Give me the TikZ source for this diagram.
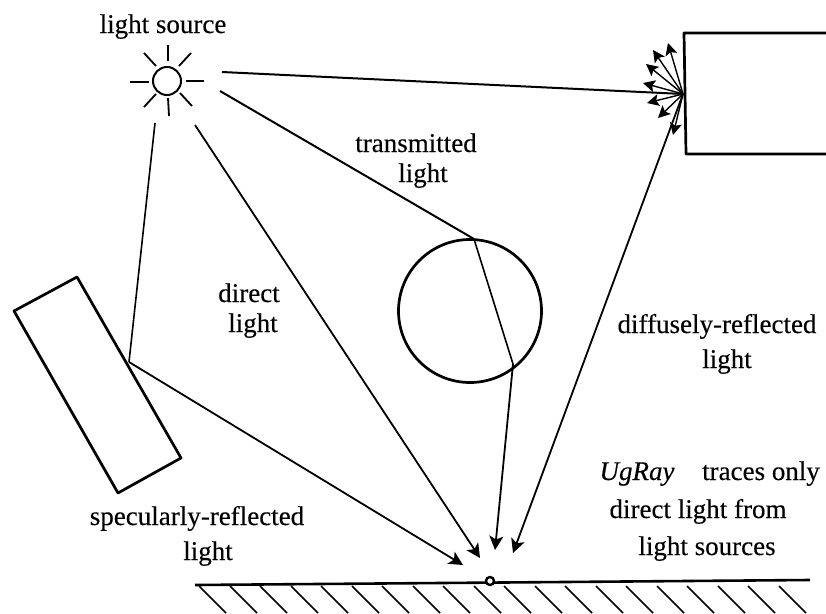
\documentclass[tikz,border=0pt]{standalone}
\usepackage{fontspec}
\setmainfont{Liberation Serif}[FakeBold=0.25]
\usetikzlibrary{arrows.meta}
\tikzset{
  ray/.style={line width=1.8pt,-{Stealth[length=14pt,width=14pt,inset=3.5pt]}},
  rayplain/.style={line width=2pt},
  small/.style={line width=1.4pt,-{Stealth[length=12pt,width=12pt,inset=2.5pt]}},
  obj/.style={line width=2.7pt,line join=round},
  sunray/.style={line width=1.8pt},
  hatch/.style={line width=1.5pt},
  lab/.style={inner sep=0pt,anchor=base,font=\fontsize{27}{31}\selectfont}
}
\begin{document}
\begin{tikzpicture}[x=1pt,y=-1pt]
\useasboundingbox (0,0) rectangle (826,613);
% sun
\node[circle,draw,line width=2pt,minimum size=28pt,inner sep=0pt] (sun) at (167,81) {};
\foreach \a/\b/\c/\d in {130/82/149/82,186/81/204/81,144/53/156/66,191/53/179/66,168/45/168/61,144/107/156/94,192/106/180/93,168/98/169/116}
  \draw[sunray] (\a,\b) -- (\c,\d);
% coordinates
\coordinate (srcA) at (222,72);
\coordinate (srcB) at (220,91);
\coordinate (srcC) at (195,125);
\coordinate (srcD) at (155,123);
\coordinate (dif) at (683,94);
\coordinate (tin) at (474,239);
\coordinate (tout) at (513,364);
\coordinate (spec) at (129,362);
\coordinate (tipA) at (463,565);
\coordinate (tipB) at (480,558);
\coordinate (tipC) at (495,550);
\coordinate (tipD) at (513,553);
% objects
\draw[obj] (826,33) -- (684,33) -- (686,154) -- (826,154);
\node[circle,draw,line width=2.7pt,minimum size=143pt,inner sep=0pt] (ball) at (470,311) {};
\draw[obj] (14,311) -- (77,277) -- (181,458) -- (118,493) -- cycle;
% ground
\draw[line width=2.6pt] (195,585) -- (810,580);
\node[circle,draw,fill=white,line width=2.4pt,minimum size=8pt,inner sep=0pt] (pt) at (490,581) {};
\foreach \x in {199,230,260,291,321,352,382,413,443,474,504,535,565,596,626,657,687,718,748,779}
  \draw[hatch] (\x,586) -- ({\x+27},613);
% rays
\draw[rayplain] (srcA) -- (dif);
\draw[rayplain] (srcB) -- (tin);
\draw[rayplain,line width=1.6pt] (tin) -- (tout);
\draw[ray] (tout) -- (tipC);
\draw[ray] (srcC) -- (tipB);
\draw[rayplain,line width=1.6pt] (srcD) -- (spec);
\draw[ray] (spec) -- (tipA);
\draw[ray] (dif) -- (tipD);
\foreach \x/\y in {668/43,653/50,646/64,643/83,647/103,658/118,673/135}
  \draw[small] (dif) -- (\x,\y);
% labels
\node[lab] (t1) at (163,33) {light source};
\node[lab] (t2) at (416,152) {transmitted};
\node[lab] (t2b) at (423,182) {light};
\node[lab] (t3) at (249,302) {direct};
\node[lab] (t3b) at (253,332) {light};
\node[lab] (t4) at (717,333) {diffusely-reflected};
\node[lab] (t4b) at (727,368) {light};
\node[lab] (t5) at (197,525) {specularly-reflected};
\node[lab] (t5b) at (208,560) {light};
\node[lab] (t6) at (637,480) {\textit{UgRay}};
\node[lab] (t6b) at (761,480) {traces only};
\node[lab] (t7) at (698,518) {direct light from};
\node[lab] (t8) at (707,555) {light sources};
\end{tikzpicture}
\end{document}
